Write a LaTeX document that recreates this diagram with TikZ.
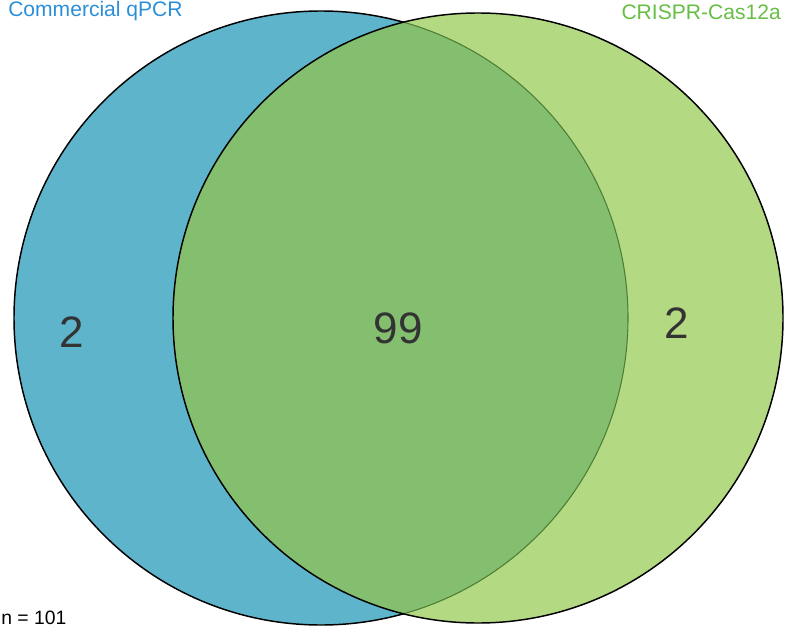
\documentclass[tikz,border=0pt]{standalone}
\usepackage{fontspec}
\setmainfont{Liberation Sans}
\definecolor{qpcrblue}{HTML}{5EB4CB}
\definecolor{casgreen}{HTML}{B3D983}
\definecolor{bothgreen}{HTML}{83BF6F}
\definecolor{edgegreen}{HTML}{4E7E34}
\definecolor{qpcrtext}{HTML}{2B8FD8}
\definecolor{castext}{HTML}{67BE45}
\definecolor{numgray}{HTML}{333333}

\begin{document}
\begin{tikzpicture}[x=0.75pt, y=-0.75pt,
  setname/.style={font=\fontsize{15.8}{18}\selectfont, inner sep=0pt},
  count/.style={font=\fontsize{33}{38}\selectfont, text=numgray, inner sep=0pt}]
\useasboundingbox (0,0) rectangle (787,634);

% Create circle 1 (qPCR)
\fill[qpcrblue] (321,318) circle (307);
\draw[black, line width=1.1pt] (321,318) circle (307);
% Create circle 2 (CRISPR)
\fill[casgreen] (478,318) circle (305);
% Overlap of both circles
\begin{scope}
\clip (321,318) circle (307);
\fill[bothgreen] (478,318) circle (305);
\end{scope}
\begin{scope}
\clip (478,318) circle (305);
\draw[edgegreen, line width=0.8pt] (321,318) circle (307);
\end{scope}
\draw[black, line width=1.1pt] (478,318) circle (305);

% Label sets
\node[setname, text=qpcrtext, anchor=base west] at (8,17) (qpcr) {Commercial qPCR};
\node[setname, text=castext, anchor=base east] at (781,20) (cas) {CRISPR-Cas12a};

% Label counts
\node[count] at (72,332) (onlyqpcr) {2};
\node[count] at (398,328) (both) {99};
\node[count] at (677,323) (onlycas) {2};

% Sample size
\node[setname, font=\fontsize{14.5}{17}\selectfont, anchor=base west] at (1,624) (total) {n = 101};
\end{tikzpicture}
\end{document}
